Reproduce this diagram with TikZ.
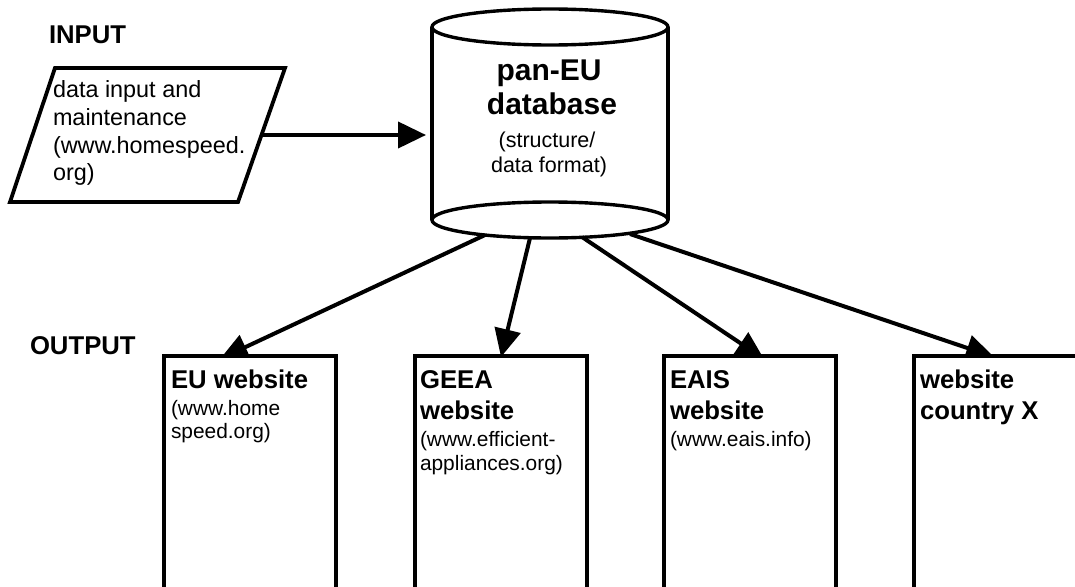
\documentclass[tikz,border=0pt]{standalone}
\usepackage{fontspec}
\setmainfont{Liberation Sans}
\usetikzlibrary{arrows.meta,calc}
\newcommand\mydbfont{\fontsize{30}{34}\selectfont\bfseries}
\newcommand\mylabfont{\fontsize{25.7}{31}\selectfont\bfseries}
\newcommand\myinfont{\fontsize{23.4}{28}\selectfont}
\newcommand\mydbsmall{\fontsize{21.5}{25}\selectfont}
\newcommand\myurlfont{\fontsize{20.9}{23}\selectfont}
\begin{document}
\begin{tikzpicture}[x=1pt,y=-1pt,
  ln/.style={line width=3.8pt,line join=miter},
  cyl/.style={line width=3.4pt},
  arr/.style={line width=4pt,-{Triangle[length=28pt,width=26pt]}},
  box/.style={draw,line width=4.3pt,fill=white,minimum width=172pt,minimum height=250pt,inner sep=0pt,outer sep=0pt,anchor=north west},
  txt/.style={anchor=base west,inner sep=0pt,outer sep=0pt},
  ctxt/.style={anchor=base,inner sep=0pt,outer sep=0pt}]
\clip (0,0) rectangle (1075,586);
\fill[white] (0,0) rectangle (1075,586);

% labels
\node[txt,font=\mylabfont] (lin) at (49,44) {INPUT};
\node[txt,font=\mylabfont] (lout) at (30,354) {OUTPUT};

% input parallelogram
\draw[ln] (55,68) -- (285,68) -- (238,202) -- (10,202) -- cycle;
\coordinate (inp-e) at (263,135);
\node[txt,font=\myinfont] (in1) at (53,97) {data input and};
\node[txt,font=\myinfont] (in2) at (53,125) {maintenance};
\node[txt,font=\myinfont] (in3) at (53,153) {(www.homespeed.};
\node[txt,font=\myinfont] (in4) at (53,180) {org)};

% database cylinder
\draw[cyl] (432,27) -- (432,220);
\draw[cyl] (668,27) -- (668,220);
\draw[cyl,fill=white] (550,27) ellipse [x radius=118pt, y radius=18pt];
\draw[cyl,fill=white] (550,220) ellipse [x radius=118pt, y radius=18pt];
\coordinate (db-w) at (426,135);
\coordinate (db-s1) at (485,235);
\coordinate (db-s2) at (530,238);
\coordinate (db-s3) at (582,237);
\coordinate (db-s4) at (630,234);
\node[ctxt,font=\mydbfont] (db1) at (549,80) {pan-EU};
\node[ctxt,font=\mydbfont] (db2) at (552,114) {database};
\node[ctxt,font=\mydbsmall] (db3) at (547,147) {(structure/};
\node[ctxt,font=\mydbsmall] (db4) at (549,172) {data format)};

% output boxes (positions)
\path (164,356) coordinate (eu-nw) (415,356) coordinate (geea-nw)
      (664,356) coordinate (eais-nw) (914,356) coordinate (cx-nw);
\coordinate (eu-in) at ($(eu-nw)+(56,3)$);
\coordinate (geea-in) at ($(geea-nw)+(86,1)$);
\coordinate (eais-in) at ($(eais-nw)+(100,3)$);
\coordinate (cx-in) at ($(cx-nw)+(80,1)$);

% connectors
\draw[arr] (inp-e) -- (db-w);
\draw[arr] (db-s1) -- (eu-in);
\draw[arr] (db-s2) -- (geea-in);
\draw[arr] (db-s3) -- (eais-in);
\draw[arr] (db-s4) -- (cx-in);

% boxes
\node[box] (eu) at (eu-nw) {};
\node[box] (geea) at (geea-nw) {};
\node[box] (eais) at (eais-nw) {};
\node[box] (cx) at (cx-nw) {};

% box texts
\node[txt,font=\mylabfont] (eu1) at (171,388) {EU website};
\node[txt,font=\myurlfont] (eu2) at (171,415) {(www.home};
\node[txt,font=\myurlfont] (eu3) at (171,438) {speed.org)};

\node[txt,font=\mylabfont] (ge1) at (420,388) {GEEA};
\node[txt,font=\mylabfont] (ge2) at (420,419) {website};
\node[txt,font=\myurlfont] (ge3) at (420,446) {(www.efficient-};
\node[txt,font=\myurlfont] (ge4) at (420,470) {appliances.org)};

\node[txt,font=\mylabfont] (ea1) at (670,388) {EAIS};
\node[txt,font=\mylabfont] (ea2) at (670,419) {website};
\node[txt,font=\myurlfont] (ea3) at (670,446) {(www.eais.info)};

\node[txt,font=\mylabfont] (cx1) at (920,388) {website};
\node[txt,font=\mylabfont] (cx2) at (920,419) {country X};
\end{tikzpicture}
\end{document}
